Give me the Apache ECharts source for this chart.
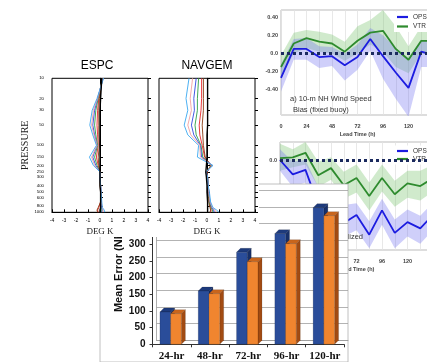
<!DOCTYPE html>
<html><head><meta charset="utf-8">
<script src="https://cdn.jsdelivr.net/npm/echarts@6/dist/echarts.min.js"></script>
<style>html,body{margin:0;padding:0;background:#fff}#c{width:427px;height:362px}</style>
</head><body><div id="c"></div>
<script>
// ---------- profile plots (ESPC / NAVGEM) ----------
const pressureLevels = [10,20,30,50,70,100,150,200,250,300,400,500,700,850,925,1000];
const pressureTicks = [10,20,30,50,100,150,200,250,300,400,500,600,800,1000];
const profileColors = ['#000000','#e8262a','#8a3b12','#2f9e44','#3046e0','#f2a0a0','#3aa8f0'];
const espcBlack = [0.15,0.05,0.0,0.0,0.0,0.0,0.0,0.0,0.0,0.0,0.0,0.05,0.05,0.05,0.0,0.0];
const espcRed   = [0.2,-0.1,-0.2,-0.25,-0.2,-0.15,-0.3,-0.15,0.0,0.0,0.05,0.05,0.05,-0.1,-0.2,-0.15];
const espcBrown = [0.2,-0.05,-0.1,-0.1,-0.1,-0.05,-0.15,-0.1,0.0,0.0,0.0,0.05,0.05,-0.15,-0.25,-0.2];
const espcGreen = [0.2,-0.15,-0.35,-0.45,-0.35,-0.2,-0.45,-0.25,0.0,0.0,0.05,0.05,0.1,0.1,0.15,0.1];
const espcBlue  = [0.25,-0.2,-0.45,-0.6,-0.45,-0.25,-0.6,-0.35,0.0,0.0,0.05,0.1,0.1,0.15,0.2,0.15];
const espcPink  = [0.25,-0.2,-0.55,-0.7,-0.5,-0.25,-0.7,-0.45,0.0,0.0,0.05,0.1,0.1,0.2,0.25,0.25];
const espcLtBlue= [0.3,-0.25,-0.65,-0.85,-0.6,-0.3,-0.88,-0.55,0.0,0.0,0.05,0.1,0.15,0.2,0.35,0.4];
const navBlack  = [0.05,0.05,0.05,0.05,0.0,0.0,0.0,-0.05,-0.1,-0.05,0.0,0.0,0.05,0.05,0.05,0.05];
const navRed    = [-0.45,-0.45,-0.5,-0.65,-0.6,-0.4,-0.2,0.35,0.0,0.05,0.1,0.15,0.2,0.3,0.35,0.3];
const navBrown  = [-0.3,-0.3,-0.3,-0.4,-0.35,-0.3,-0.15,0.3,0.0,0.05,0.1,0.1,0.15,0.25,0.3,0.25];
const navGreen  = [-0.7,-0.8,-0.8,-1.0,-0.9,-0.5,-0.35,0.4,-0.05,0.05,0.1,0.15,0.2,0.35,0.45,0.5];
const navBlue   = [-0.9,-1.1,-1.05,-1.3,-1.1,-0.55,-0.45,0.45,-0.05,0.05,0.1,0.15,0.25,0.4,0.55,0.6];
const navPink   = [-1.2,-1.4,-1.3,-1.6,-1.35,-0.6,-0.55,0.45,-0.1,0.05,0.1,0.15,0.25,0.45,0.65,0.75];
const navLtBlue = [-1.5,-1.75,-1.6,-1.9,-1.6,-0.7,-0.8,0.5,-0.1,0.05,0.1,0.2,0.3,0.5,0.8,1.0];

// ---------- wind speed bias charts ----------
const leadHours = ['0','12','24','36','48','60','72','84','96','108','120','132','144'];
const opsA      = [-0.27,0.05,0.05,-0.04,-0.03,-0.13,-0.04,0.16,-0.03,-0.21,-0.38,0.02,-0.02];
const opsAUpper = [-0.12,0.16,0.17,0.08,0.07,0.0,0.1,0.28,0.2,0.06,-0.05,0.15,0.12];
const opsALower = [-0.42,-0.07,-0.07,-0.16,-0.14,-0.3,-0.18,0.03,-0.28,-0.5,-0.7,-0.15,-0.15];
const vtrA      = [-0.15,0.11,0.17,0.13,0.11,0.02,0.14,0.23,0.25,0.05,-0.07,0.14,0.14];
const vtrAUpper = [-0.02,0.23,0.26,0.24,0.21,0.13,0.3,0.37,0.48,0.3,0.08,0.3,0.3];
const vtrALower = [-0.28,0.0,0.06,0.02,0.0,-0.08,0.0,0.1,0.02,-0.15,-0.22,0.0,0.0];
const opsB      = [0.0,-0.16,-0.11,-0.5,-0.42,-0.7,-0.61,-0.83,-0.56,-0.81,-0.69,-0.76,-0.61];
const opsBUpper = [0.12,-0.02,0.0,-0.3,-0.3,-0.5,-0.48,-0.68,-0.43,-0.66,-0.55,-0.62,-0.47];
const opsBLower = [-0.12,-0.3,-0.25,-0.7,-0.6,-0.85,-0.78,-0.98,-0.72,-0.98,-0.85,-0.93,-0.78];
const vtrB      = [0.02,0.03,0.08,-0.17,-0.09,-0.28,-0.2,-0.4,-0.2,-0.38,-0.26,-0.29,-0.2];
const vtrBUpper = [0.18,0.12,0.2,-0.02,0.03,-0.13,-0.05,-0.25,-0.05,-0.23,-0.12,-0.12,-0.05];
const vtrBLower = [-0.12,-0.08,-0.05,-0.3,-0.22,-0.43,-0.36,-0.56,-0.35,-0.52,-0.42,-0.45,-0.35];
const biasTicksA = [-0.4,-0.2,0,0.2,0.4];
const biasTicksB = [-1.0,-0.5,0];

// ---------- bar chart ----------
const barCategories = ['24-hr','48-hr','72-hr','96-hr','120-hr'];
const blueBars   = [97,160,276,332,410];
const orangeBars = [92,152,248,302,386];

const OPS_COLOR = '#1c1ce0', VTR_COLOR = '#2e8b2e';
const SANS = 'Liberation Sans', SERIF = 'Liberation Serif';

function profileSeries(arrs, idx, z) {
  return arrs.map((vals) => ({
    type: 'line', xAxisIndex: idx, yAxisIndex: idx, z,
    data: pressureLevels.map((p, i) => [vals[i], p]),
    showSymbol: false, silent: true
  }));
}
function bandSeries(lower, upper, xi, color, stack, z) {
  return [
    { type:'line', xAxisIndex:xi, yAxisIndex:xi, stack, stackStrategy:'all', z, silent:true,
      data: lower, showSymbol:false, lineStyle:{opacity:0} },
    { type:'line', xAxisIndex:xi, yAxisIndex:xi, stack, stackStrategy:'all', z, silent:true,
      data: upper.map((u,i)=>+(u - lower[i]).toFixed(3)), showSymbol:false, lineStyle:{opacity:0},
      areaStyle:{color, opacity:1} }
  ];
}
function lineSeries(name, vals, xi, color, z, zeroLine) {
  const s = { name, type:'line', xAxisIndex:xi, yAxisIndex:xi, z, data: vals, showSymbol:false,
    color, lineStyle:{width:1.8, color}, silent:true };
  if (zeroLine) s.markLine = { silent:true, z:z + 1, symbol:'none', label:{show:false},
    lineStyle:{type:[3,3], width:3, color:'#1b2a5e'}, data:[{yAxis:0}] };
  return s;
}
function bar3D(front, top, side, which) {
  return function (params, api) {
    const cat = api.value(0), val = api.value(1);
    const t = api.coord([cat, val]), b = api.coord([cat, 0]);
    const band = api.size([1, 0])[0];
    const w = band * 0.28, dx = 4, dy = -4;
    const x0 = which === 0 ? t[0] - 1 - w : t[0] - 1;
    const y = t[1], by = b[1];
    return { type:'group', children:[
      { type:'polygon', shape:{points:[[x0+w,y],[x0+w+dx,y+dy],[x0+w+dx,by+dy],[x0+w,by]]}, style:{fill:side, stroke:'rgba(0,0,0,0.35)', lineWidth:0.4} },
      { type:'polygon', shape:{points:[[x0,y],[x0+dx,y+dy],[x0+w+dx,y+dy],[x0+w,y]]}, style:{fill:top, stroke:'rgba(0,0,0,0.35)', lineWidth:0.4} },
      { type:'rect', shape:{x:x0, y:y, width:w, height:by - y}, style:{fill:front, stroke:'rgba(0,0,0,0.35)', lineWidth:0.4} }
    ]};
  };
}

const biasLabelStyle = { fontSize:5.5, fontWeight:'bold', color:'#444', fontFamily:SANS };
function biasXAxis(gi, z) {
  return { gridIndex:gi, type:'category', data:leadHours, boundaryGap:false, z,
    axisLine:{show:false}, axisTick:{show:false},
    axisLabel:Object.assign({interval:1, margin:8}, biasLabelStyle),
    splitLine:{show:true, interval:0, lineStyle:{color:'#e2e2e2', width:0.8}},
    name:'Lead Time (h)', nameLocation:'middle', nameGap:16, nameTextStyle:biasLabelStyle };
}
function biasYAxis(gi, min, max, ticks, z) {
  return { gridIndex:gi, type:'value', min, max, z,
    axisLine:{show:false}, axisTick:{show:false}, splitLine:{show:false},
    axisLabel:Object.assign({customValues:ticks, margin:3,
      formatter:v => Math.abs(v) < 1e-9 ? '0.0' : v.toFixed(2)}, biasLabelStyle) };
}
function profXAxis(gi) {
  return { gridIndex:gi, type:'value', min:-4, max:4, interval:1, z:21,
    axisLine:{lineStyle:{color:'#000', width:1}}, axisTick:{inside:true, length:3, lineStyle:{color:'#000'}},
    axisLabel:{fontSize:5, color:'#000', margin:6, fontFamily:SANS},
    splitLine:{show:false}, name:'DEG K', nameLocation:'middle', nameGap:15,
    nameTextStyle:{fontFamily:SERIF, fontSize:9, color:'#222'} };
}
function profYAxis(gi, withLabels, position) {
  const ax = { gridIndex:gi, type:'log', logBase:10, min:10, max:1000, inverse:true, z:21,
    position: position || 'left',
    axisLine:{show: !position, lineStyle:{color:'#000', width:1}},
    axisTick:{inside: !position, length:3, customValues:pressureTicks, lineStyle:{color:'#000'}},
    axisLabel:{show:withLabels, customValues:pressureTicks, fontSize:4.3, color:'#000', margin:8,
      fontFamily:SANS, hideOverlap:false, formatter:v => String(Math.round(v))},
    minorTick:{show:false}, splitLine:{show:false} };
  if (withLabels) Object.assign(ax, { name:'PRESSURE', nameLocation:'middle', nameRotate:90, nameGap:17,
    nameTextStyle:{fontFamily:SERIF, fontSize:10, color:'#222'} });
  return ax;
}
const G = { outerBoundsMode:'none', containLabel:false };

const option = {
  animation:false,
  backgroundColor:'#fff',
  grid:[
    Object.assign({ left:280, top:142, width:153, height:108, show:true, borderColor:'#bbb', borderWidth:1, backgroundColor:'#fff', z:1 }, G),
    Object.assign({ left:156.5, top:190.3, width:191.5, height:150, z:10 }, G),
    Object.assign({ left:152.5, top:194.3, width:191.5, height:150, z:11 }, G),
    Object.assign({ left:52, top:78.3, width:96, height:134, show:true, borderColor:'#000', borderWidth:1, backgroundColor:'rgba(0,0,0,0)', z:21 }, G),
    Object.assign({ left:159, top:78.3, width:96, height:134, show:true, borderColor:'#000', borderWidth:1, backgroundColor:'rgba(0,0,0,0)', z:21 }, G),
    Object.assign({ left:281, top:10, width:153, height:105, show:true, borderColor:'#bbb', borderWidth:1, backgroundColor:'#fff', z:30 }, G)
  ],
  xAxis:[
    biasXAxis(0, 1),
    { gridIndex:1, type:'category', data:barCategories, z:10, axisLine:{lineStyle:{color:'#999', width:0.8}},
      axisTick:{show:false}, axisLabel:{show:false}, splitLine:{show:false} },
    { gridIndex:2, type:'category', data:barCategories, z:11, axisLine:{lineStyle:{color:'#333', width:1}},
      axisTick:{show:true, length:3, lineStyle:{color:'#333'}},
      axisLabel:{interval:0, fontFamily:SERIF, fontWeight:'bold', fontSize:11, color:'#111', margin:6} },
    profXAxis(3), profXAxis(4),
    biasXAxis(5, 30)
  ],
  yAxis:[
    biasYAxis(0, -1.0, 0.2, biasTicksB, 1),
    { gridIndex:1, type:'value', min:0, max:450, interval:50, z:10,
      axisLine:{show:true, lineStyle:{color:'#999', width:0.8}}, axisTick:{show:false}, axisLabel:{show:false},
      splitLine:{show:true, lineStyle:{color:'#a0a0a0', width:0.8}} },
    { gridIndex:2, type:'value', min:0, max:450, interval:50, z:11,
      axisLine:{show:true, lineStyle:{color:'#333', width:1}}, axisTick:{show:true, length:3, lineStyle:{color:'#333'}},
      axisLabel:{fontFamily:SANS, fontWeight:'bold', fontSize:10, color:'#111', margin:7},
      splitLine:{show:false},
      name:'Mean Error (NM)', nameLocation:'middle', nameRotate:90, nameGap:27,
      nameTextStyle:{fontFamily:SANS, fontWeight:'bold', fontSize:11, color:'#111'} },
    profYAxis(3, true), profYAxis(4, false),
    biasYAxis(5, -0.68, 0.48, biasTicksA, 30),
    profYAxis(3, false, 'right'), profYAxis(4, false, 'right')
  ],
  legend:[
    { data:['OPS','VTR'], left:394, top:11.5, orient:'vertical', icon:'rect', itemWidth:11, itemHeight:2.2,
      itemGap:2.5, padding:[2,3,2,3], backgroundColor:'#fff', selectedMode:false, z:35,
      textStyle:{fontSize:6.5, color:'#333', fontFamily:SANS} },
    { data:['OPS','VTR'], left:394, top:145.5, orient:'vertical', icon:'rect', itemWidth:11, itemHeight:2.2,
      itemGap:1, padding:[2,3,2,3], backgroundColor:'#fff', selectedMode:false, z:4,
      textStyle:{fontSize:6.5, color:'#333', fontFamily:SANS} }
  ],
  graphic:[
    { type:'rect', z:9, shape:{x:100, y:184, width:248, height:178}, style:{fill:'#fff', stroke:'#b0b0b0', lineWidth:0.8} },
    { type:'rect', z:20, shape:{x:0, y:0, width:259, height:237}, style:{fill:'#fff'} },
    { type:'text', z:22, x:97, y:66, style:{text:'ESPC', font:'12px "Liberation Sans"', fill:'#000', align:'center', verticalAlign:'middle'} },
    { type:'text', z:22, x:207, y:66, style:{text:'NAVGEM', font:'12px "Liberation Sans"', fill:'#000', align:'center', verticalAlign:'middle'} },
    { type:'text', z:34, x:290, y:99, style:{text:'a) 10-m NH Wind Speed', font:'7.5px "Liberation Sans"', fill:'#333', verticalAlign:'middle'} },
    { type:'text', z:34, x:293, y:110, style:{text:'Bias (fixed buoy)', font:'7.5px "Liberation Sans"', fill:'#333', verticalAlign:'middle'} },
    { type:'text', z:4, x:363, y:237, style:{text:'b) Normalized', font:'7.5px "Liberation Sans"', fill:'#333', align:'right', verticalAlign:'middle'} }
  ],
  series:[
    ...bandSeries(vtrBLower, vtrBUpper, 0, 'rgba(120,195,110,0.35)', 'vb', 2),
    ...bandSeries(opsBLower, opsBUpper, 0, 'rgba(110,110,240,0.33)', 'ob', 2),
    lineSeries('VTR', vtrB, 0, VTR_COLOR, 3, false),
    lineSeries('OPS', opsB, 0, OPS_COLOR, 3, true),
    { type:'custom', name:'Blue', xAxisIndex:2, yAxisIndex:2, z:12, silent:true,
      renderItem: bar3D('#2a4d9a', '#1d3a7c', '#17306a', 0),
      data: barCategories.map((c,i)=>[i, blueBars[i]]), encode:{x:0, y:1} },
    { type:'custom', name:'Orange', xAxisIndex:2, yAxisIndex:2, z:12, silent:true,
      renderItem: bar3D('#f0852f', '#c9651c', '#a24b12', 1),
      data: barCategories.map((c,i)=>[i, orangeBars[i]]), encode:{x:0, y:1} }
  ]
};
// profile series: colored lines first, black reference line on top
const espcSets = [espcRed, espcBrown, espcGreen, espcBlue, espcPink, espcLtBlue, espcBlack];
const navSets  = [navRed, navBrown, navGreen, navBlue, navPink, navLtBlue, navBlack];
const setColors = [profileColors[1],profileColors[2],profileColors[3],profileColors[4],profileColors[5],profileColors[6],profileColors[0]];
[[espcSets,3],[navSets,4]].forEach(([sets, idx]) => {
  profileSeries(sets, idx, 22).forEach((s, k) => {
    s.color = setColors[k];
    s.lineStyle = { width: k === 6 ? 1.4 : 0.9, color: setColors[k] };
    option.series.push(s);
  });
});
option.series.push(
  ...bandSeries(vtrALower, vtrAUpper, 5, 'rgba(120,195,110,0.35)', 'va', 31),
  ...bandSeries(opsALower, opsAUpper, 5, 'rgba(110,110,240,0.33)', 'oa', 31),
  lineSeries('VTR', vtrA, 5, VTR_COLOR, 32, false),
  lineSeries('OPS', opsA, 5, OPS_COLOR, 32, true)
);
const chart = echarts.init(document.getElementById('c'));
chart.setOption(option);
</script>
</body></html>
